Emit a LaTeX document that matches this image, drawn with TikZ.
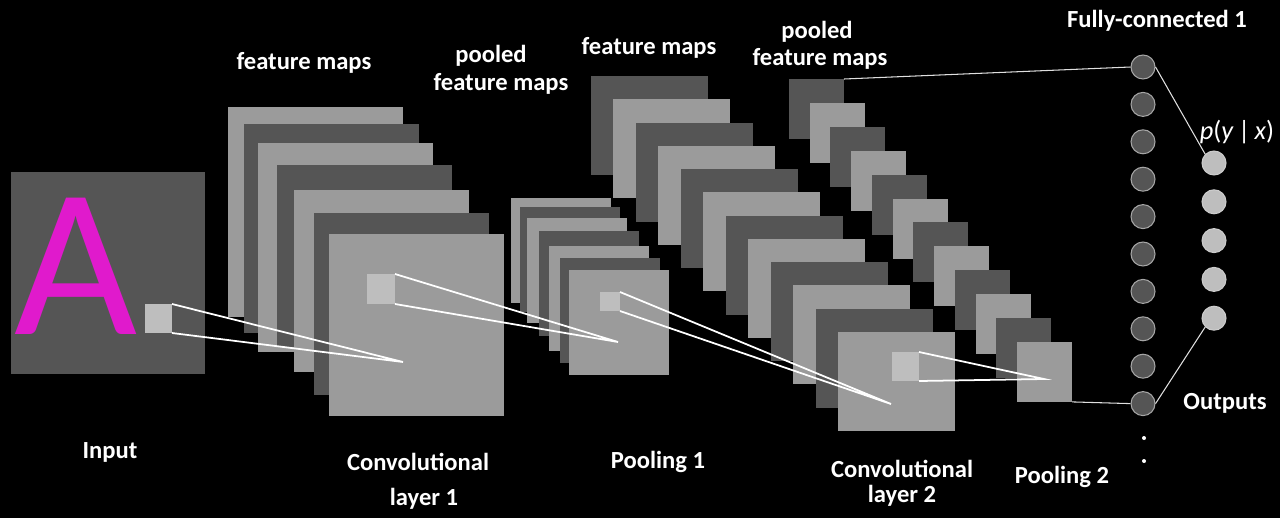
\documentclass[tikz,border=0pt]{standalone}
\usepackage{fontspec}
\setmainfont{Carlito}
\definecolor{mapdark}{RGB}{85,85,85}
\definecolor{maplight}{RGB}{155,155,155}
\definecolor{patchgray}{RGB}{190,190,190}
\definecolor{letterpink}{RGB}{224,26,204}
\begin{document}
\begin{tikzpicture}[x=0.02cm,y=-0.02cm]
    \tikzset{
    fmap/.style 2 args={rectangle,inner sep=0,outer sep=0,anchor=north west,minimum width=#1*0.02cm,minimum height=#2*0.02cm},
    patch/.style 2 args={rectangle,inner sep=0,outer sep=0,fill=patchgray,minimum width=#1*0.02cm,minimum height=#2*0.02cm},
    unit/.style={circle,inner sep=0,minimum size=0.48cm,fill=mapdark,draw=gray!70,line width=0.6pt},
    outunit/.style={circle,inner sep=0,minimum size=0.48cm,fill=patchgray,draw=gray!40,line width=0.6pt},
    lbl/.style={anchor=base,inner sep=0,text=white,font=\fontsize{14}{16}\selectfont\bfseries},
    rf/.style={white,line width=1pt},
    fc/.style={gray!25,line width=0.6pt},
    }
    % background
    \fill[black] (0,0) rectangle (1280,518);
    \useasboundingbox (0,0) rectangle (1280,518);

    % input
    \node[fmap={194}{202},fill=mapdark] (input) at (11,172) {};
    \node[anchor=base west,inner sep=0,text=letterpink,font=\fontsize{121}{121}\selectfont] (letter) at (14,334) {A};
    \node[patch={27}{29}] (inpatch) at (158.5,318.5) {};

    % convolutional layer 1
    \foreach \x/\y/\h/\c [count=\i] in {228/107/210/maplight, 244/124/209/mapdark, 258/143/209/maplight,
        277/165/182/mapdark, 294/190/182/maplight, 314/213/182/mapdark, 329/234/182/maplight}
      \node[fmap={175}{\h},fill=\c] (c1-\i) at (\x,\y) {};
    \node[patch={28}{30}] (c1patch) at (381,289) {};
    \coordinate (c1pt) at (403,362);

    % pooling 1
    \foreach \x/\y/\c [count=\i] in {511/198/maplight, 520/207/mapdark, 527/218/maplight, 539/231/mapdark,
        549/246/maplight, 560/258/mapdark, 569/270/maplight}
      \node[fmap={100}{105},fill=\c] (p1-\i) at (\x,\y) {};
    \node[patch={20}{19}] (p1patch) at (610,301.5) {};
    \coordinate (p1pt) at (618,342);

    % convolutional layer 2
    \foreach \i in {0,...,11} {
      \ifodd\i\relax \def\c{maplight}\else \def\c{mapdark}\fi
      \node[fmap={117}{99},fill=\c] (c2-\i) at ({591+22.45*\i},{76+23.27*\i}) {};
    }
    \node[patch={27}{29}] (c2patch) at (905.5,366.5) {};
    \coordinate (c2pt) at (891,404);

    % pooling 2
    \foreach \i in {0,...,11} {
      \ifodd\i\relax \def\c{maplight}\else \def\c{mapdark}\fi
      \node[fmap={55}{60},fill=\c] (p2-\i) at ({789+20.73*\i},{79+23.9*\i}) {};
    }
    \coordinate (p2pt) at (1044,379);

    % fully connected and outputs
    \foreach \i in {1,...,10}
      \node[unit] (fc\i) at (1143,{67+37.4*(\i-1)}) {};
    \foreach \i in {1,...,5}
      \node[outunit] (out\i) at (1214,{163+38.8*(\i-1)}) {};
    \node[circle,fill=white,inner sep=0,minimum size=0.08cm] (dot1) at (1144,438) {};
    \node[circle,fill=white,inner sep=0,minimum size=0.08cm] (dot2) at (1144,461) {};

    % receptive fields
    \draw[rf] (inpatch.north east) -- (c1pt) -- (inpatch.south east);
    \draw[rf] (c1patch.north east) -- (p1pt) -- (c1patch.south east);
    \draw[rf] (p1patch.north east) -- (c2pt) -- (p1patch.south east);
    \draw[rf] (c2patch.north east) -- (p2pt) -- (c2patch.south east);

    % dense connections
    \draw[fc] (p2-0.north east) -- (fc1.west);
    \draw[fc] (p2-11.south east) -- (fc10.west);
    \draw[fc] (fc1.east) -- (out1.north west);
    \draw[fc] (fc10.east) -- (out5.south west);

    % labels
    \node[lbl] (inputlab) at (110,458) {Input};
    \node[lbl] (c1top) at (304,69) {feature maps};
    \node[lbl] (c1lab) at (418,470) {Convolutional};
    \node[lbl] (c1lab2) at (424,505) {layer 1};
    \node[lbl] (p1top) at (491,62) {pooled};
    \node[lbl] (p1top2) at (501,90) {feature maps};
    \node[lbl] (p1lab) at (658,468) {Pooling 1};
    \node[lbl] (c2top) at (649,54) {feature maps};
    \node[lbl] (c2lab) at (902,477) {Convolutional};
    \node[lbl] (c2lab2) at (902,502) {layer 2};
    \node[lbl] (p2top) at (817,38) {pooled};
    \node[lbl] (p2top2) at (820,65) {feature maps};
    \node[lbl] (p2lab) at (1062,483) {Pooling 2};
    \node[lbl] (fclab) at (1157,27) {Fully-connected 1};
    \node[lbl] (outlab) at (1225,409) {Outputs};
    \node[lbl,font=\fontsize{15}{17}\selectfont] (prob) at (1237,139) {\textit{p}(\textit{y}\,|\,\textit{x})};
\end{tikzpicture}
\end{document}
